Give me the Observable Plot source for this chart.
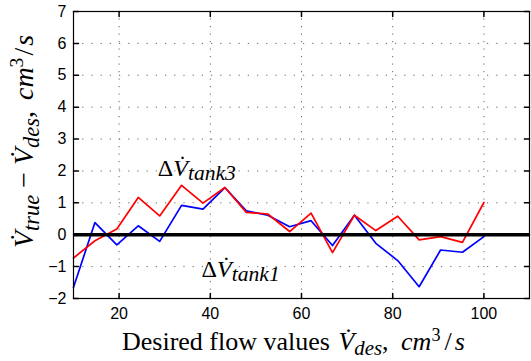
<!DOCTYPE html>
<html>
<head>
<meta charset="utf-8">
<script src="https://cdn.jsdelivr.net/npm/d3@7"></script>
<script src="https://cdn.jsdelivr.net/npm/@observablehq/plot@0.6"></script>
<style>
  html, body { margin: 0; padding: 0; background: #fff; }
  #chart { width: 531px; height: 361px; }
  svg text.mathlbl, svg text.mathlbl tspan { font-family: "Liberation Serif", "DejaVu Serif", serif !important; }
</style>
</head>
<body>
<div id="chart"></div>
<script>
// Desired flow values (cm^3/s)
const flow = [10, 14.7, 19.5, 24.2, 28.9, 33.7, 38.4, 43.2, 47.9, 52.6, 57.4, 62.1, 66.8, 71.6, 76.3, 81.1, 85.8, 90.5, 95.3, 100];
// Error tank 3 (red)
const dTank3 = [-0.73, -0.19, 0.18, 1.17, 0.59, 1.55, 0.99, 1.48, 0.70, 0.65, 0.10, 0.68, -0.56, 0.61, 0.13, 0.58, -0.16, -0.06, -0.24, 1.01];
// Error tank 1 (blue)
const dTank1 = [-1.65, 0.38, -0.32, 0.28, -0.21, 0.92, 0.80, 1.48, 0.75, 0.61, 0.25, 0.44, -0.34, 0.61, -0.27, -0.81, -1.63, -0.48, -0.55, -0.06];

const xTicks = [20, 40, 60, 80, 100];
const yTicks = [-2, -1, 0, 1, 2, 3, 4, 5, 6, 7];
const xDomain = [10, 110];
const yDomain = [-2, 7];

// annotation anchors in data units
const annoTank3 = {x: 28.6, y: 1.84, sub: "tank3"};
const annoTank1 = {x: 38.2, y: -1.33, sub: "tank1"};

const rows = flow.map((x, i) => ({x, t3: dTank3[i], t1: dTank1[i]}));

const tickShape = {draw(ctx, l) { ctx.moveTo(0, 0); ctx.lineTo(0, -l); }};
const tickLen = 5;

const plot = Plot.plot({
  width: 531,
  height: 361,
  marginLeft: 73,
  marginRight: 2,
  marginTop: 11,
  marginBottom: 63,
  style: {fontFamily: "'Liberation Sans', Arial, sans-serif", fontSize: "16px", color: "black", background: "white", overflow: "visible"},
  x: {domain: xDomain},
  y: {domain: yDomain},
  marks: [
    Plot.gridX(xTicks, {stroke: "#666", strokeOpacity: 1, strokeDasharray: "1.2,6.3"}),
    Plot.gridY(yTicks, {stroke: "#666", strokeOpacity: 1, strokeDasharray: "1.2,8"}),
    Plot.line(rows, {x: "x", y: "t1", stroke: "#0000ff", strokeWidth: 1.7}),
    Plot.line(rows, {x: "x", y: "t3", stroke: "#ff0000", strokeWidth: 1.7}),
    Plot.ruleY([0], {stroke: "black", strokeWidth: 3.5}),
    Plot.frame({stroke: "black", strokeWidth: 1.2}),
    Plot.vector(xTicks, {x: d => d, y: yDomain[0], length: tickLen, rotate: 0, anchor: "start", shape: tickShape, stroke: "black"}),
    Plot.vector(xTicks, {x: d => d, y: yDomain[1], length: tickLen, rotate: 180, anchor: "start", shape: tickShape, stroke: "black"}),
    Plot.vector(yTicks, {x: xDomain[0], y: d => d, length: tickLen, rotate: 90, anchor: "start", shape: tickShape, stroke: "black"}),
    Plot.vector(yTicks, {x: xDomain[1], y: d => d, length: tickLen, rotate: -90, anchor: "start", shape: tickShape, stroke: "black"}),
    Plot.axisX({ticks: xTicks, tickSize: 0, tickPadding: 9, fontSize: 16, label: null}),
    Plot.axisY({ticks: yTicks, tickSize: 0, tickPadding: 7, fontSize: 16, label: null,
      tickFormat: d => d < 0 ? "\u2212" + Math.abs(d) : String(d)})
  ]
});

document.getElementById("chart").appendChild(plot);

const svg = d3.select(plot);
const sx = plot.scale("x"), sy = plot.scale("y");

function rich(g, parts, size, anchor, subScale = 0.8, subDy = 0.2, supDy = -0.35) {
  const t = g.append("text").attr("class", "mathlbl")
    .style("font-size", size + "px").style("text-anchor", anchor).attr("fill", "black");
  let shift = 0;
  for (const p of parts) {
    const ts = t.append("tspan").text(p.t);
    ts.style("font-style", p.i ? "italic" : "normal");
    const target = p.sub ? size * subDy : p.sup ? size * supDy : 0;
    if (target !== shift) { ts.attr("dy", target - shift); shift = target; }
    if (p.sub) ts.style("font-size", (size * subScale) + "px");
    if (p.sup) ts.style("font-size", (size * 0.7) + "px");
    if (p.dx) ts.attr("dx", p.dx);
  }
  return t;
}

// x axis title
rich(svg.append("g").attr("transform", "translate(122,350)"), [
  {t: "Desired flow values "},
  {t: "V\u0307", i: true, dx: 2},
  {t: "des", i: true, sub: true},
  {t: ", "},
  {t: "cm", i: true, dx: 6},
  {t: "3", sup: true},
  {t: "/", dx: 4},
  {t: "s", i: true, dx: 3}
], 26, "start");

// y axis title
rich(svg.append("g").attr("transform", "translate(33,248) rotate(-90)"), [
  {t: "V\u0307", i: true},
  {t: "true", i: true, sub: true},
  {t: " \u2212 "},
  {t: "V\u0307", i: true},
  {t: "des", i: true, sub: true},
  {t: ", "},
  {t: "cm", i: true, dx: 4},
  {t: "3", sup: true},
  {t: "/", dx: 2},
  {t: "s", i: true, dx: 2}
], 28, "start");

// annotations
for (const a of [annoTank3, annoTank1]) {
  rich(svg.append("g").attr("transform", `translate(${sx.apply(a.x)},${sy.apply(a.y)})`), [
    {t: "\u0394"},
    {t: "V\u0307", i: true},
    {t: a.sub, i: true, sub: true}
  ], 24, "start", 0.9, 0.18);
}
</script>
</body>
</html>
